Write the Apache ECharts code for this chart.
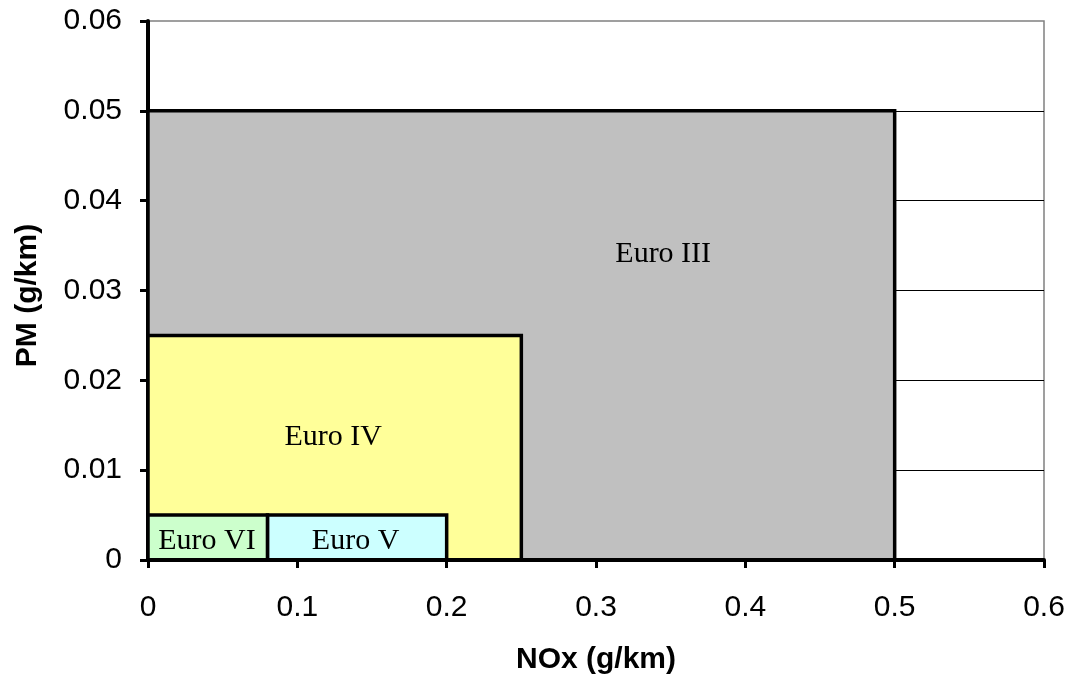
<!DOCTYPE html>
<html>
<head>
<meta charset="utf-8">
<script src="https://cdn.jsdelivr.net/npm/echarts@6/dist/echarts.min.js"></script>
<style>
html,body{margin:0;padding:0;background:#fff;}
#chart{width:1075px;height:682px;}
</style>
</head>
<body>
<div id="chart"></div>
<script>
// Emission standards (NOx vs PM limits)
const categories = ['Euro III', 'Euro IV', 'Euro V', 'Euro VI'];
const noxMin = [0, 0, 0.08, 0];
const noxMax = [0.5, 0.25, 0.2, 0.08];
const pmMin = [0, 0, 0, 0];
const pmMax = [0.05, 0.025, 0.005, 0.005];
// label anchor points (data units)
const labelNox = [0.345, 0.124, 0.139, 0.0395];
const labelPm = [0.034, 0.0137, 0.0021, 0.0021];
const fillColors = ['#C0C0C0', '#FFFF99', '#CCFFFF', '#CCFFCC'];

const data = categories.map((c, i) => [noxMin[i], noxMax[i], pmMin[i], pmMax[i], labelNox[i], labelPm[i], i]);

const chart = echarts.init(document.getElementById('chart'), null, {renderer: 'canvas'});
const sans = '"Liberation Sans", Arial, sans-serif';
const serif = '"Liberation Serif", "Times New Roman", serif';

chart.setOption({
  animation: false,
  grid: {
    left: 148, right: 31, top: 21, bottom: 122,
    show: true, borderColor: '#808080', borderWidth: 1.5, backgroundColor: 'transparent'
  },
  xAxis: {
    type: 'value', min: 0, max: 0.6, interval: 0.1, z: 10,
    name: 'NOx (g/km)', nameLocation: 'middle', nameGap: 85,
    nameTextStyle: {fontFamily: sans, fontSize: 30, fontWeight: 'bold', color: '#000'},
    axisLine: {show: true, onZero: false, lineStyle: {color: '#000', width: 4}},
    axisTick: {show: true, inside: false, length: 8, lineStyle: {color: '#000', width: 3}},
    axisLabel: {fontFamily: sans, fontSize: 30, color: '#000', margin: 33},
    splitLine: {show: false}
  },
  yAxis: {
    type: 'value', min: 0, max: 0.06, interval: 0.01, z: 0,
    name: 'PM (g/km)', nameLocation: 'middle', nameGap: 105, nameRotate: 90,
    nameTextStyle: {fontFamily: sans, fontSize: 30, fontWeight: 'bold', color: '#000', padding: [0, 10, 0, 0]},
    axisLine: {show: true, onZero: false, lineStyle: {color: '#000', width: 4}},
    axisTick: {show: true, inside: false, length: 8, lineStyle: {color: '#000', width: 3}},
    axisLabel: {fontFamily: sans, fontSize: 30, color: '#000', margin: 26},
    splitLine: {show: true, showMaxLine: false, lineStyle: {color: '#000', width: 1}}
  },
  series: [{
    type: 'custom',
    clip: false,
    z: 2,
    encode: {x: [0, 1], y: [2, 3]},
    data: data,
    renderItem: function (params, api) {
      const x0 = api.value(0), x1 = api.value(1), y0 = api.value(2), y1 = api.value(3);
      const lx = api.value(4), ly = api.value(5), idx = api.value(6);
      const pTL = api.coord([x0, y1]);
      const pBR = api.coord([x1, y0]);
      const pL = api.coord([lx, ly]);
      return {
        type: 'group',
        children: [{
          type: 'rect',
          shape: {x: pTL[0], y: pTL[1], width: pBR[0] - pTL[0], height: pBR[1] - pTL[1]},
          style: {fill: fillColors[idx], stroke: '#000', lineWidth: 3.5}
        }, {
          type: 'text',
          x: pL[0], y: pL[1],
          style: {text: categories[idx], align: 'center', verticalAlign: 'middle',
                  font: '30px ' + serif, fill: '#000'}
        }]
      };
    }
  }]
});
</script>
</body>
</html>
